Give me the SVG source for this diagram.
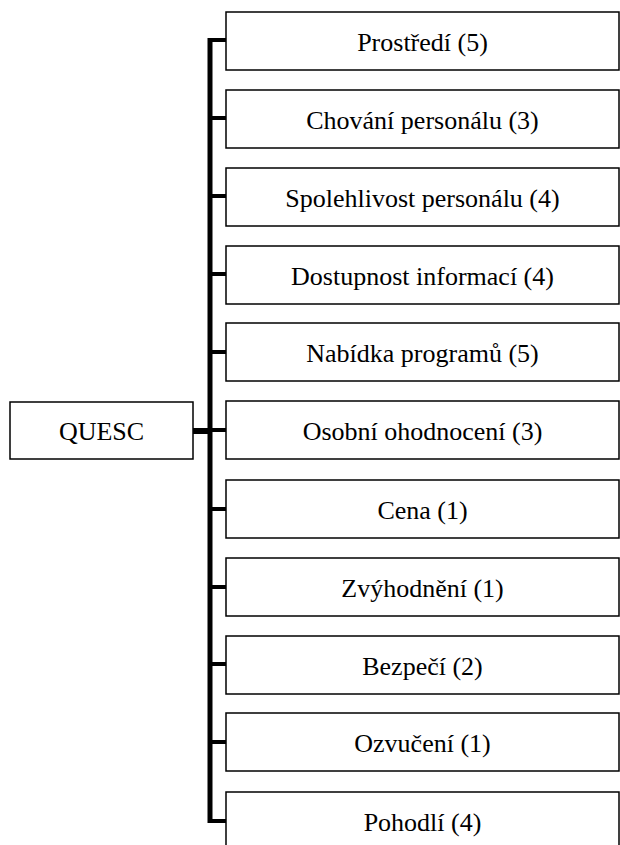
<svg xmlns="http://www.w3.org/2000/svg" width="620" height="845" viewBox="0 0 620 845">
  <style>
    .box { fill: #ffffff; stroke: #000000; stroke-width: 1.5; }
    .lbl { font-family: "Liberation Serif", "Times New Roman", serif; font-size: 26px; fill: #000000; text-anchor: middle; }
    .wire { stroke: #000000; fill: none; stroke-linecap: butt; }
  </style>
  <rect width="620" height="845" fill="#ffffff"/>

  <!-- connectors: trunk, root link and one stub per category -->
  <g id="connectors">
    <path class="wire" stroke-width="5" d="M210 38 V823"/>
    <path class="wire" stroke-width="6" d="M193 431 H212"/>
    <g stroke-width="4" class="wire">
      <path class="wire" d="M208 40 H227"/>
      <path class="wire" d="M208 118 H227"/>
      <path class="wire" d="M208 196 H227"/>
      <path class="wire" d="M208 274 H227"/>
      <path class="wire" d="M208 352 H227"/>
      <path class="wire" d="M208 430 H227"/>
      <path class="wire" d="M208 509 H227"/>
      <path class="wire" d="M208 587 H227"/>
      <path class="wire" d="M208 664 H227"/>
      <path class="wire" d="M208 742 H227"/>
      <path class="wire" d="M208 821 H227"/>
    </g>
  </g>

  <g id="root">
    <rect class="box" x="10" y="402" width="183" height="57"/>
    <text class="lbl" x="101.5" y="440">QUESC</text>
  </g>

  <g id="n1"><rect class="box" x="226" y="12" width="393" height="58"/><text class="lbl" x="422.5" y="50.5">Prostředí (5)</text></g>
  <g id="n2"><rect class="box" x="226" y="90" width="393" height="58"/><text class="lbl" x="422.5" y="128.5">Chování personálu (3)</text></g>
  <g id="n3"><rect class="box" x="226" y="168" width="393" height="58"/><text class="lbl" x="422.5" y="206.5">Spolehlivost personálu (4)</text></g>
  <g id="n4"><rect class="box" x="226" y="246" width="393" height="58"/><text class="lbl" x="422.5" y="284.5">Dostupnost informací (4)</text></g>
  <g id="n5"><rect class="box" x="226" y="323" width="393" height="58"/><text class="lbl" x="422.5" y="361.5">Nabídka programů (5)</text></g>
  <g id="n6"><rect class="box" x="226" y="401" width="393" height="58"/><text class="lbl" x="422.5" y="439.5">Osobní ohodnocení (3)</text></g>
  <g id="n7"><rect class="box" x="226" y="480" width="393" height="58"/><text class="lbl" x="422.5" y="518.5">Cena (1)</text></g>
  <g id="n8"><rect class="box" x="226" y="558" width="393" height="58"/><text class="lbl" x="422.5" y="596.5">Zvýhodnění (1)</text></g>
  <g id="n9"><rect class="box" x="226" y="636" width="393" height="58"/><text class="lbl" x="422.5" y="674.5">Bezpečí (2)</text></g>
  <g id="n10"><rect class="box" x="226" y="713" width="393" height="58"/><text class="lbl" x="422.5" y="751.5">Ozvučení (1)</text></g>
  <g id="n11"><rect class="box" x="226" y="792" width="393" height="58"/><text class="lbl" x="422.5" y="830.5">Pohodlí (4)</text></g>
</svg>
